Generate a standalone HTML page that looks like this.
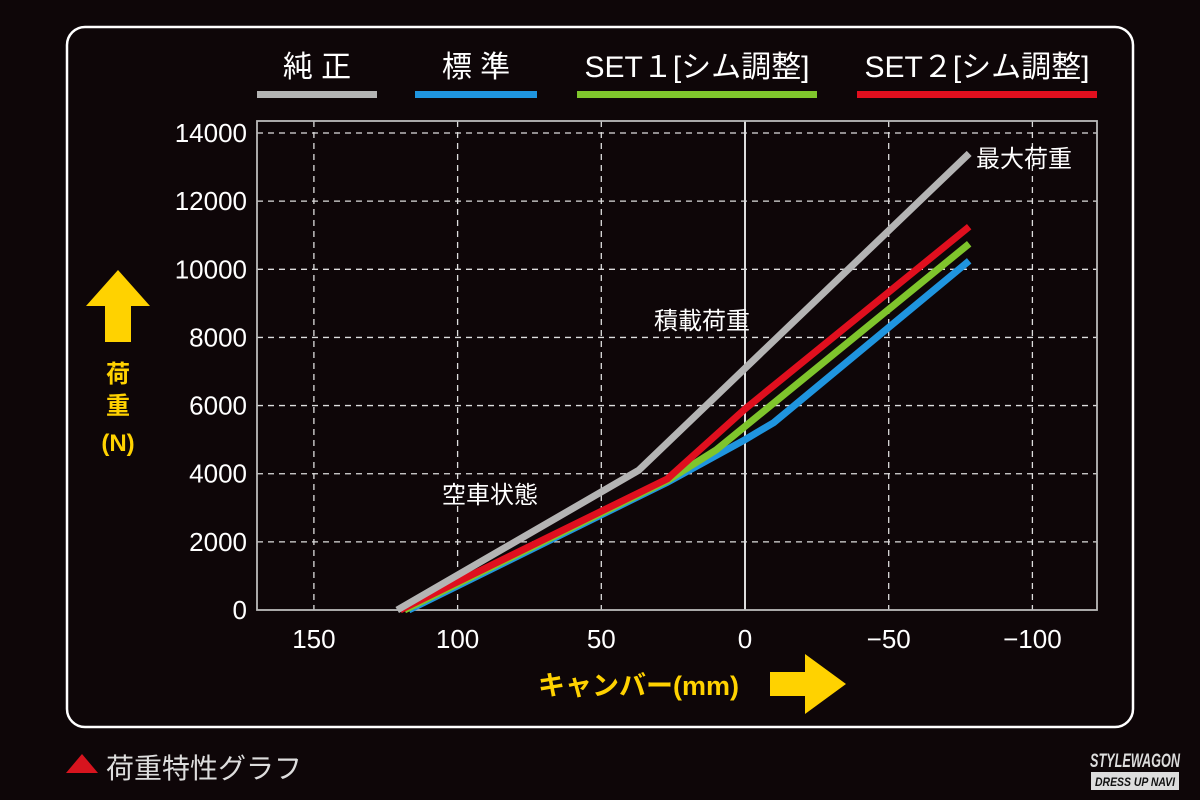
<!DOCTYPE html>
<html><head><meta charset="utf-8"><style>
html,body{margin:0;padding:0;background:#0e0608;}
svg{display:block}
text{font-family:"Liberation Sans","Noto Sans CJK JP",sans-serif;}
</style></head><body>
<svg id="chart" width="1200" height="800" viewBox="0 0 1200 800" xmlns="http://www.w3.org/2000/svg">
<rect width="1200" height="800" fill="#0e0608"/>
<rect x="67" y="27" width="1066" height="700" rx="18" fill="none" stroke="#fff" stroke-width="2.5"/>
<g id="legend"></g>
<g id="grid"></g>
<g id="series"></g>
<g id="ticks"></g>
<text x="976" y="167" fill="#fff" font-size="24">最大荷重</text>
<text x="654" y="329" fill="#fff" font-size="24">積載荷重</text>
<text x="442" y="503" fill="#fff" font-size="24">空車状態</text>
<polygon points="118,270 150,306 131,306 131,342 105,342 105,306 86,306" fill="#ffd200"/>
<g fill="#ffd200" font-size="24" font-weight="bold" text-anchor="middle">
<text x="118" y="382">荷</text><text x="118" y="414">重</text><text x="118" y="451">(N)</text></g>
<text x="538" y="695" fill="#ffd200" font-size="27" font-weight="bold">キャンバー(mm)</text>
<polygon points="770,672 805,672 805,654 846,684 805,714 805,696 770,696" fill="#ffd200"/>
<polygon points="66,773 82,754 98,773" fill="#d7141e"/>
<text x="106" y="778" fill="#ddd" font-size="28">荷重特性グラフ</text>
<g>
<text x="1135" y="767" fill="#ddd" font-size="19" font-weight="bold" font-style="italic" text-anchor="middle" textLength="90" lengthAdjust="spacingAndGlyphs">STYLEWAGON</text>
<rect x="1091" y="772" width="88" height="18" fill="#ddd"/>
<text x="1135" y="786" fill="#111" font-size="12" font-weight="bold" font-style="italic" text-anchor="middle" textLength="80" lengthAdjust="spacingAndGlyphs">DRESS UP NAVI</text></g>
</svg>
<script>
const xTicks=[150,100,50,0,-50,-100];
const yTicks=[0,2000,4000,6000,8000,10000,12000,14000];
const seriesNames=["純 正","標 準","SET１[シム調整]","SET２[シム調整]"];
const seriesColors=["#b4b4b4","#1f95df","#7fc52c","#e00f1e"];
const grayX=[121,37,-78];
const grayY=[0,4100,13400];
const blueX=[117,27,0,-10,-78];
const blueY=[0,3750,5000,5500,10250];
const greenX=[118.5,27,10,-78];
const greenY=[0,3800,4700,10750];
const redX=[120,27,0,-78];
const redY=[0,3850,5900,11250];
const NS="http://www.w3.org/2000/svg";
const X0=257,X1=1097,Y0=121,Y1=610;
function xs(v){return 745-v*2.874;}
function ys(v){return 610-v*0.03407;}
function mk(t,a,p){const e=document.createElementNS(NS,t);for(const k in a)e.setAttribute(k,a[k]);p.appendChild(e);return e;}
const grid=document.getElementById('grid'),ticks=document.getElementById('ticks'),ser=document.getElementById('series'),leg=document.getElementById('legend');
yTicks.forEach(v=>{
 if(v>0){const l=mk('line',{x1:X0,x2:X1,y1:ys(v),y2:ys(v),stroke:'#ddd','stroke-width':1.3,'stroke-dasharray':'6 5'},grid);
 
 }
 const t=mk('text',{x:247,y:ys(v)+9,fill:'#fff','font-size':26,'text-anchor':'end'},ticks);t.textContent=v;
 
 
});
xTicks.forEach(v=>{
 const l=mk('line',{x1:xs(v),x2:xs(v),y1:Y0,y2:Y1,stroke:'#ddd','stroke-width':v===0?2:1.3,'stroke-dasharray':v===0?'none':'6 5'},grid);
 
 
 const t=mk('text',{x:xs(v),y:648,fill:'#fff','font-size':26,'text-anchor':'middle'},ticks);t.textContent=v<0?'−'+(-v):v;
 
 
});
const fr=mk('rect',{x:X0,y:Y0,width:X1-X0,height:Y1-Y0,fill:'none',stroke:'#bbb','stroke-width':1.8},grid);


const data=[[grayX,grayY],[blueX,blueY],[greenX,greenY],[redX,redY]];
const names=['line-junsei','line-hyojun','line-set1','line-set2'];
[1,2,3,0].forEach(i=>{
 const [xx,yy]=data[i];
 const p=mk('polyline',{points:xx.map((x,j)=>xs(x)+','+ys(yy[j])).join(' '),fill:'none',stroke:seriesColors[i],'stroke-width':7,'stroke-linejoin':'miter'},ser);
 
 
});
const legX=[[257,377],[415,537],[577,817],[857,1097]];
seriesNames.forEach((n,i)=>{
 const r=mk('rect',{x:legX[i][0],y:91,width:legX[i][1]-legX[i][0],height:7,fill:seriesColors[i]},leg);
 
 
 const t=mk('text',{x:(legX[i][0]+legX[i][1])/2,y:77,fill:'#fff','font-size':30,'text-anchor':'middle'},leg);t.textContent=n;
 
 
});
</script>
</body></html>
